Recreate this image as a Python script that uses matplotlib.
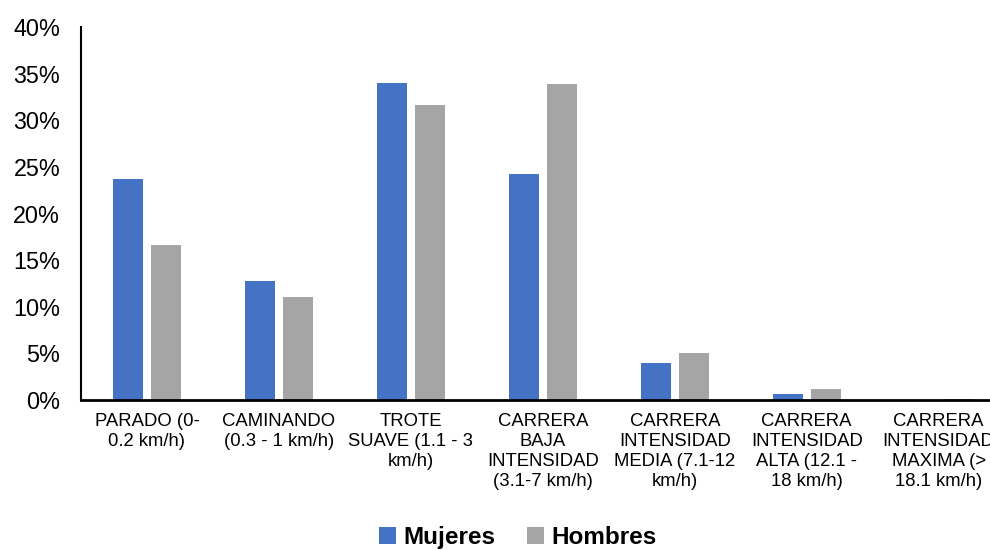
import numpy as np
import matplotlib.pyplot as plt
from matplotlib.ticker import PercentFormatter

# datos
categorias = [
    "PARADO (0-\n0.2 km/h)",
    "CAMINANDO\n(0.3 - 1 km/h)",
    "TROTE\nSUAVE (1.1 - 3\nkm/h)",
    "CARRERA\nBAJA\nINTENSIDAD\n(3.1-7 km/h)",
    "CARRERA\nINTENSIDAD\nMEDIA (7.1-12\nkm/h)",
    "CARRERA\nINTENSIDAD\nALTA (12.1 -\n18 km/h)",
    "CARRERA\nINTENSIDAD\nMAXIMA (>\n18.1 km/h)",
]
mujeres = [23.7, 12.8, 34.0, 24.2, 4.0, 0.65, 0.0]
hombres = [16.6, 11.0, 31.6, 33.9, 5.0, 1.15, 0.08]

plt.rcParams['font.family'] = ['Liberation Sans', 'DejaVu Sans']

fig = plt.figure(figsize=(9.9, 5.5), dpi=100)
ax = fig.add_axes([0.0818, 0.2727, 0.933, 0.678])

x = np.arange(len(categorias))
w = 0.227
ax.bar(x - 0.143, mujeres, w, color='#4472C4', label='Mujeres')
ax.bar(x + 0.143, hombres, w, color='#A5A5A5', label='Hombres')

ax.set_xlim(-0.5, len(categorias) - 0.5)
ax.set_ylim(0, 40)
ax.set_yticks(range(0, 41, 5))
ax.yaxis.set_major_formatter(PercentFormatter(decimals=0))
ax.set_xticks(x)
ax.set_xticklabels(categorias, fontsize=13.3, linespacing=1.25)

ax.tick_params(axis='y', length=0, pad=15, labelsize=16.8)
ax.tick_params(axis='x', length=0, pad=9)

for s in ['top', 'right']:
    ax.spines[s].set_visible(False)
ax.spines['left'].set_linewidth(1.5)
ax.spines['bottom'].set_linewidth(2)

fig.legend(loc='center', bbox_to_anchor=(0.523, 0.022), ncol=2, frameon=False,
           prop={'weight': 'bold', 'size': 17.5}, handlelength=0.7, handleheight=0.7,
           handletextpad=0.3, columnspacing=1.3)

plt.savefig('out.png', dpi=100)
